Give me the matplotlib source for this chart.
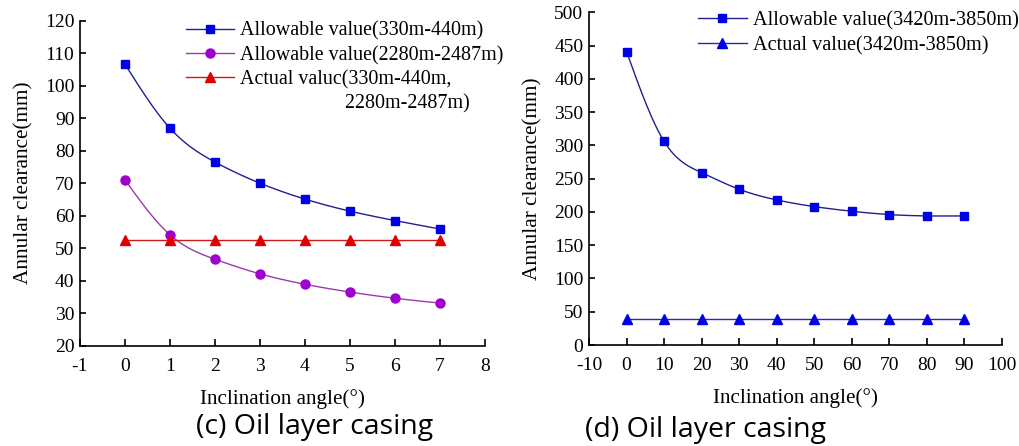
import numpy as np
import matplotlib
matplotlib.use("Agg")
import matplotlib.pyplot as plt
from matplotlib.lines import Line2D

# ---------------- data ----------------
angles_c = [0, 1, 2, 3, 4, 5, 6, 7]
allow_330_440 = [106.6, 86.9, 76.5, 70.0, 65.1, 61.4, 58.5, 55.9]
allow_2280_2487 = [71.0, 54.1, 46.6, 42.1, 38.9, 36.5, 34.6, 33.1]
actual_c = [52.5, 52.5, 52.5, 52.5, 52.5, 52.5, 52.5, 52.5]

angles_d = [0, 10, 20, 30, 40, 50, 60, 70, 80, 90]
allow_3420_3850 = [441, 306, 259, 234, 218, 208, 201, 196, 194, 194]
actual_d = [39, 39, 39, 39, 39, 39, 39, 39, 39, 39]

xticks_c = [-1, 0, 1, 2, 3, 4, 5, 6, 7, 8]
yticks_c = [20, 30, 40, 50, 60, 70, 80, 90, 100, 110, 120]
xticks_d = [-10, 0, 10, 20, 30, 40, 50, 60, 70, 80, 90, 100]
yticks_d = [0, 50, 100, 150, 200, 250, 300, 350, 400, 450, 500]

labels_c = ["Allowable value(330m-440m)", "Allowable value(2280m-2487m)",
            "Actual valuc(330m-440m,", "2280m-2487m)"]
labels_d = ["Allowable value(3420m-3850m)", "Actual value(3420m-3850m)"]
xlabel = "Inclination angle(°)"
ylabel = "Annular clearance(mm)"
captions = ["(c) Oil layer casing", "(d) Oil layer casing"]


def spline_curve(x, y, n=300):
    """Natural cubic spline drawn through the data points (line rendering only)."""
    x = np.asarray(x, float)
    y = np.asarray(y, float)
    k = len(x)
    h = np.diff(x)
    A = np.zeros((k, k))
    b = np.zeros(k)
    A[0, 0] = 1
    A[-1, -1] = 1
    for i in range(1, k - 1):
        A[i, i - 1] = h[i - 1]
        A[i, i] = 2 * (h[i - 1] + h[i])
        A[i, i + 1] = h[i]
        b[i] = 6 * ((y[i + 1] - y[i]) / h[i] - (y[i] - y[i - 1]) / h[i - 1])
    M = np.linalg.solve(A, b)
    xs = np.linspace(x[0], x[-1], n)
    idx = np.clip(np.searchsorted(x, xs) - 1, 0, k - 2)
    x0, x1 = x[idx], x[idx + 1]
    hh = x1 - x0
    t0 = x1 - xs
    t1 = xs - x0
    ys = (M[idx] * t0 ** 3 / (6 * hh) + M[idx + 1] * t1 ** 3 / (6 * hh)
          + (y[idx] / hh - M[idx] * hh / 6) * t0
          + (y[idx + 1] / hh - M[idx + 1] * hh / 6) * t1)
    return xs, ys


plt.rcParams['font.family'] = ['Liberation Serif', 'DejaVu Serif']
plt.rcParams['axes.unicode_minus'] = False

fig = plt.figure(figsize=(10.19, 4.46), dpi=100)
W, H = 1019, 446


def add_axes_px(x0, y0, x1, y1):
    return fig.add_axes([x0 / W, 1 - y1 / H, (x1 - x0) / W, (y1 - y0) / H])


ax1 = add_axes_px(80, 20.7, 485, 345.7)
ax2 = add_axes_px(589, 12.3, 1002, 345)

navy = '#1f1f8f'
blue = '#0000e6'
purple_line = '#9a3aae'
purple_mk = '#a000d0'
red_line = '#cc1a1a'
red_mk = '#e00000'

# ---- panel (c)
xs, ys = spline_curve(angles_c, allow_330_440)
ax1.plot(xs, ys, color=navy, lw=1.0)
ax1.plot(angles_c, allow_330_440, ls='none', marker='s', ms=6, color=blue)
xs, ys = spline_curve(angles_c, allow_2280_2487)
ax1.plot(xs, ys, color=purple_line, lw=1.0)
ax1.plot(angles_c, allow_2280_2487, ls='none', marker='o', ms=6.5, color=purple_mk)
ax1.plot(angles_c, actual_c, color=red_line, lw=1.0)
ax1.plot(angles_c, actual_c, ls='none', marker='^', ms=6.5, color=red_mk)

ax1.set_xlim(-1, 8)
ax1.set_ylim(20, 120)
ax1.set_xticks(xticks_c)
ax1.set_yticks(yticks_c)

h_c = [
    Line2D([], [], color=navy, lw=1.0, marker='s', ms=6, mfc=blue, mec=blue),
    Line2D([], [], color=purple_line, lw=1.0, marker='o', ms=6.5, mfc=purple_mk, mec=purple_mk),
    Line2D([], [], color=red_line, lw=1.0, marker='^', ms=6.5, mfc=red_mk, mec=red_mk),
    Line2D([], [], color='none'),
]
lab_c = labels_c[:3] + [" " * 21 + labels_c[3]]
leg1 = ax1.legend(h_c, lab_c, loc='upper left',
                  bbox_to_anchor=((186 - 80) / 405, 1 - (21.5 - 20.7) / 325),
                  frameon=False, fontsize=14.4, handlelength=2.4, handletextpad=0.3,
                  labelspacing=0.25, borderpad=0, borderaxespad=0)

# ---- panel (d)
xs, ys = spline_curve(angles_d, allow_3420_3850)
ax2.plot(xs, ys, color=navy, lw=1.0)
ax2.plot(angles_d, allow_3420_3850, ls='none', marker='s', ms=6, color=blue)
ax2.plot(angles_d, actual_d, color='#2a2aa8', lw=1.0)
ax2.plot(angles_d, actual_d, ls='none', marker='^', ms=6.5, color=blue)

ax2.set_xlim(-10, 100)
ax2.set_ylim(0, 500)
ax2.set_xticks(xticks_d)
ax2.set_yticks(yticks_d)

h_d = [
    Line2D([], [], color=navy, lw=1.0, marker='s', ms=6, mfc=blue, mec=blue),
    Line2D([], [], color='#2a2aa8', lw=1.0, marker='^', ms=6.5, mfc=blue, mec=blue),
]
leg2 = ax2.legend(h_d, labels_d, loc='upper left',
                  bbox_to_anchor=((698 - 589) / 413, 1 - (11 - 12.3) / 332.7),
                  frameon=False, fontsize=14.6, handlelength=2.4, handletextpad=0.3,
                  labelspacing=0.3, borderpad=0, borderaxespad=0)

for ax in (ax1, ax2):
    for s in ('top', 'right'):
        ax.spines[s].set_visible(False)
    for s in ('left', 'bottom'):
        ax.spines[s].set_linewidth(1.2)
        ax.spines[s].set_color('black')
    ax.tick_params(axis='both', direction='in', length=5, width=1.2, labelsize=14)
    ax.tick_params(axis='x', pad=9)
    ax.tick_params(axis='y', length=4, pad=4)
    ax.set_xlabel(xlabel, fontsize=15.2, labelpad=10)
    ax.set_ylabel(ylabel, fontsize=15.3, labelpad=8)

fig.text(315 / W, 1 - 427 / H, captions[0], family=['Open Sans', 'DejaVu Sans'],
         fontsize=20.5, ha='center', va='center')
fig.text(706 / W, 1 - 430 / H, captions[1], family=['Open Sans', 'DejaVu Sans'],
         fontsize=20.5, ha='center', va='center')

fig.savefig('out.png', dpi=100)
